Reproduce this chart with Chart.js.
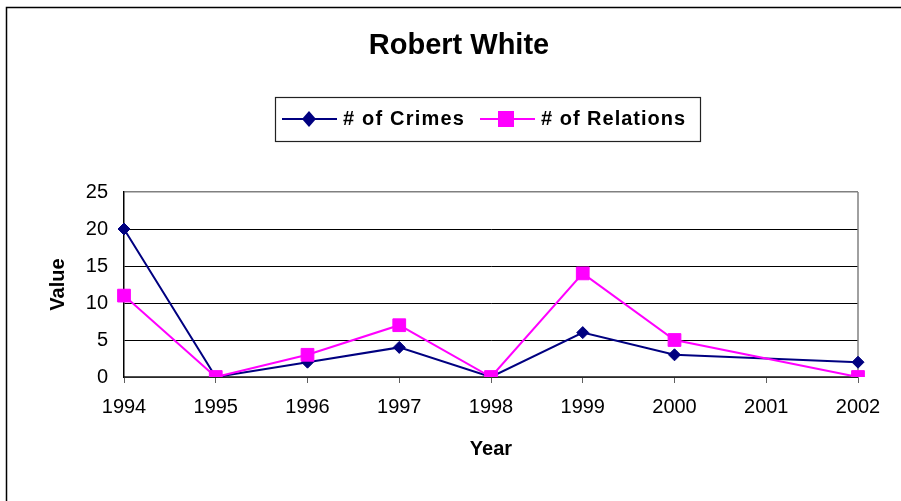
<!DOCTYPE html>
<html>
<head>
<meta charset="utf-8">
<title>Robert White</title>
<script src="https://cdn.jsdelivr.net/npm/chart.js@4/dist/chart.umd.min.js"></script>
<style>
  html, body { margin: 0; padding: 0; background: #fff; }
  #wrap { width: 901px; height: 501px; position: relative; }
</style>
</head>
<body>
<div id="wrap"><canvas id="c" width="901" height="501"></canvas></div>
<script>
// Yearly counts for Robert White (2001 has no record)
const years = ['1994', '1995', '1996', '1997', '1998', '1999', '2000', '2001', '2002'];
const crimes = [20, 0, 2, 4, 0, 6, 3, null, 2];
const relations = [11, 0, 3, 7, 0, 14, 5, null, 0];
const yTicks = [0, 5, 10, 15, 20, 25];
const chartTitle = 'Robert White';

const FONT = '"Liberation Sans", Arial, sans-serif';
const NAVY = '#000080';
const MAGENTA = '#FF00FF';

// Outer frame of the chart
const framePlugin = {
  id: 'frame',
  beforeDraw(chart) {
    const ctx = chart.ctx;
    ctx.save();
    ctx.fillStyle = '#fff';
    ctx.fillRect(0, 0, chart.width, chart.height);
    ctx.strokeStyle = '#000';
    ctx.lineWidth = 1.5;
    ctx.strokeRect(6.5, 7.5, 1200, 1200);
    ctx.restore();
  }
};

// Right edge of the plot area in gray
const plotBorderPlugin = {
  id: 'plotBorder',
  beforeDatasetsDraw(chart) {
    const { ctx, chartArea: a } = chart;
    ctx.save();
    ctx.strokeStyle = '#808080';
    ctx.lineWidth = 1.5;
    ctx.beginPath();
    ctx.moveTo(a.right, a.top);
    ctx.lineTo(a.right, a.bottom);
    ctx.stroke();
    ctx.restore();
  }
};

// Title and boxed legend above the plot
const headerPlugin = {
  id: 'header',
  afterDraw(chart) {
    const ctx = chart.ctx;
    ctx.save();
    ctx.fillStyle = '#000';
    ctx.font = 'bold 29px ' + FONT;
    ctx.textAlign = 'center';
    ctx.textBaseline = 'middle';
    ctx.fillText(chartTitle, 459, 46);

    const cy = 119;
    ctx.strokeStyle = '#222';
    ctx.lineWidth = 1.2;
    ctx.strokeRect(275.5, 97.5, 425, 44);

    // # of Crimes sample
    ctx.strokeStyle = NAVY;
    ctx.lineWidth = 2;
    ctx.beginPath(); ctx.moveTo(282, cy); ctx.lineTo(337, cy); ctx.stroke();
    ctx.fillStyle = NAVY;
    ctx.beginPath();
    ctx.moveTo(309, cy - 8); ctx.lineTo(316, cy); ctx.lineTo(309, cy + 8); ctx.lineTo(302, cy);
    ctx.closePath(); ctx.fill();

    // # of Relations sample
    ctx.strokeStyle = MAGENTA;
    ctx.beginPath(); ctx.moveTo(480, cy); ctx.lineTo(535, cy); ctx.stroke();
    ctx.fillStyle = MAGENTA;
    ctx.fillRect(498, cy - 8, 16, 16);

    ctx.fillStyle = '#000';
    ctx.font = 'bold 20px ' + FONT;
    ctx.textAlign = 'left';
    if ('letterSpacing' in ctx) ctx.letterSpacing = '1.2px';
    ctx.fillText(chart.data.datasets[0].label, 343, cy);
    ctx.letterSpacing = '1px';
    ctx.fillText(chart.data.datasets[1].label, 541, cy);
    ctx.restore();
  }
};

new Chart(document.getElementById('c'), {
  type: 'line',
  data: {
    labels: years,
    datasets: [
      {
        label: '# of Crimes',
        data: crimes,
        borderColor: NAVY,
        backgroundColor: NAVY,
        borderWidth: 2,
        pointStyle: 'rectRot',
        pointRadius: 6,
        pointBorderWidth: 1,
        pointHoverRadius: 6,
        spanGaps: true,
        tension: 0,
        order: 1
      },
      {
        label: '# of Relations',
        data: relations,
        borderColor: MAGENTA,
        backgroundColor: MAGENTA,
        borderWidth: 2,
        pointStyle: 'rect',
        pointRadius: 9,
        pointBorderWidth: 1,
        pointHoverRadius: 9,
        spanGaps: true,
        tension: 0,
        order: 0
      }
    ]
  },
  options: {
    responsive: false,
    animation: false,
    devicePixelRatio: 1,
    layout: { padding: { left: 18, right: 43, top: 192, bottom: 0 } },
    plugins: {
      legend: { display: false },
      tooltip: { enabled: false },
      title: { display: false }
    },
    scales: {
      x: {
        type: 'category',
        offset: false,
        afterFit(scale) { scale.height = 124; },
        grid: {
          display: true,
          drawOnChartArea: false,
          drawTicks: true,
          tickLength: 6,
          color: '#606060'
        },
        border: { display: true, color: '#505050', width: 1.5 },
        ticks: {
          color: '#000',
          font: { family: FONT, size: 20 },
          padding: 12,
          maxRotation: 0,
          autoSkip: false
        },
        title: {
          display: true,
          text: 'Year',
          color: '#000',
          font: { family: FONT, size: 20, weight: 'bold' },
          padding: { top: 0, bottom: 40 }
        }
      },
      y: {
        min: 0,
        max: 25,
        afterFit(scale) { scale.width = 106; },
        afterBuildTicks(scale) { scale.ticks = yTicks.map(v => ({ value: v })); },
        grid: {
          drawTicks: false,
          color: ctx => (ctx.tick && ctx.tick.value === 25 ? '#808080' : '#000'),
          lineWidth: ctx => (ctx.tick && ctx.tick.value === 25 ? 1.5 : 1)
        },
        border: { display: true, color: '#000', width: 1.5 },
        ticks: {
          color: '#000',
          font: { family: FONT, size: 20 },
          padding: 16
        },
        title: {
          display: true,
          text: 'Value',
          color: '#000',
          font: { family: FONT, size: 20, weight: 'bold' },
          padding: { top: 28, bottom: 0 }
        }
      }
    }
  },
  plugins: [framePlugin, plotBorderPlugin, headerPlugin]
});
</script>
</body>
</html>
